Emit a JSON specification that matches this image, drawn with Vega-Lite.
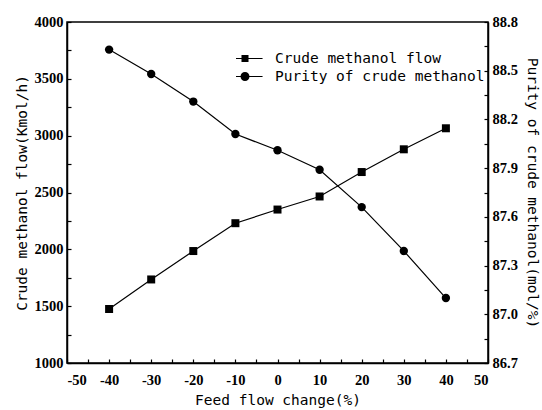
{
  "$schema": "https://vega.github.io/schema/vega-lite/v6.json",
  "width": 421,
  "height": 341,
  "autosize": "none",
  "padding": {"left": 67, "top": 22, "right": 54, "bottom": 47},
  "background": "white",
  "config": {
    "view": {"stroke": "black", "strokeWidth": 1.5},
    "axis": {
      "domainColor": "black",
      "domainWidth": 1.5,
      "tickColor": "black",
      "tickWidth": 1.2,
      "tickSize": -4,
      "grid": false,
      "labelFont": "Liberation Serif",
      "labelFontWeight": "bold",
      "labelFontSize": 14.5,
      "labelColor": "black",
      "titleFont": "DejaVu Sans Mono",
      "titleFontWeight": "normal",
      "titleFontSize": 14.5,
      "titleColor": "black"
    },
    "legend": {
      "labelFont": "DejaVu Sans Mono",
      "labelFontSize": 14.5,
      "labelColor": "black",
      "labelLimit": 400
    }
  },
  "data": {
    "values": [
      {"x": -40, "flow": 1475, "purity": 88.63},
      {"x": -30, "flow": 1735, "purity": 88.48},
      {"x": -20, "flow": 1985, "purity": 88.31},
      {"x": -10, "flow": 2230, "purity": 88.11},
      {"x": 0, "flow": 2350, "purity": 88.01},
      {"x": 10, "flow": 2465, "purity": 87.89},
      {"x": 20, "flow": 2680, "purity": 87.66},
      {"x": 30, "flow": 2880, "purity": 87.39},
      {"x": 40, "flow": 3065, "purity": 87.10}
    ]
  },
  "encoding": {
    "x": {
      "field": "x",
      "type": "quantitative",
      "scale": {"domain": [-50, 50], "nice": false, "zero": false},
      "axis": {
        "values": [-50, -45, -40, -35, -30, -25, -20, -15, -10, -5, 0, 5, 10, 15, 20, 25, 30, 35, 40, 45, 50],
        "labelExpr": "datum.value % 10 === 0 ? '' + datum.value : ''",
        "labelPadding": 14,
        "title": "Feed flow change(%)",
        "titlePadding": 7
      }
    }
  },
  "layer": [
    {
      "encoding": {
        "y": {
          "field": "flow",
          "type": "quantitative",
          "scale": {"domain": [1000, 4000], "nice": false, "zero": false},
          "axis": {
            "orient": "left",
            "values": [1000, 1250, 1500, 1750, 2000, 2250, 2500, 2750, 3000, 3250, 3500, 3750, 4000],
            "labelExpr": "datum.value % 500 === 0 ? '' + datum.value : ''",
            "labelPadding": 8,
            "title": "Crude methanol flow(Kmol/h)",
            "titlePadding": 5
          }
        }
      },
      "layer": [
        {"mark": {"type": "line", "color": "black", "strokeWidth": 1.2}},
        {"mark": {"type": "point", "shape": "square", "filled": true, "color": "black", "size": 64, "opacity": 1}},
        {
          "mark": {"type": "point", "filled": true, "color": "black", "opacity": 0, "size": 324},
          "encoding": {
            "shape": {
              "datum": "Crude methanol flow",
              "type": "nominal",
              "scale": {
                "domain": ["Crude methanol flow", "Purity of crude methanol"],
                "range": [
                  "M-1.95,-0.065H1.95V0.065H-1.95ZM-0.39,-0.39H0.39V0.39H-0.39Z",
                  "M-1.95,-0.065H1.95V0.065H-1.95ZM0.5,0A0.5,0.5,0,1,1,-0.5,0A0.5,0.5,0,1,1,0.5,0Z"
                ]
              },
              "legend": {
                "title": null,
                "orient": "none",
                "legendX": 169,
                "legendY": 28,
                "symbolOpacity": 1,
                "symbolFillColor": "black",
                "symbolStrokeColor": "black",
                "symbolStrokeWidth": 0,
                "symbolSize": 324,
                "labelOffset": 21,
                "rowPadding": 1,
                "clipHeight": 17,
                "encode": {
                  "symbols": {
                    "update": {
                      "fill": {"value": "black"},
                      "fillOpacity": {"value": 1},
                      "opacity": {"value": 1}
                    }
                  }
                }
              }
            }
          }
        }
      ]
    },
    {
      "encoding": {
        "y": {
          "field": "purity",
          "type": "quantitative",
          "scale": {"domain": [86.7, 88.8], "nice": false, "zero": false},
          "axis": {
            "orient": "right",
            "values": [86.7, 86.85, 87.0, 87.15, 87.3, 87.45, 87.6, 87.75, 87.9, 88.05, 88.2, 88.35, 88.5, 88.65, 88.8],
            "labelExpr": "abs(round(datum.value * 100) % 30) < 1 ? format(datum.value, '.1f') : ''",
            "labelPadding": 8,
            "title": "Purity of crude methanol(mol/%)",
            "titlePadding": 7
          }
        }
      },
      "layer": [
        {"mark": {"type": "line", "color": "black", "strokeWidth": 1.2}},
        {"mark": {"type": "point", "shape": "circle", "filled": true, "color": "black", "size": 70, "opacity": 1}},
        {
          "mark": {"type": "point", "filled": true, "color": "black", "opacity": 0, "size": 324},
          "encoding": {
            "shape": {"datum": "Purity of crude methanol", "type": "nominal"}
          }
        }
      ]
    }
  ],
  "resolve": {"scale": {"y": "independent"}}
}
